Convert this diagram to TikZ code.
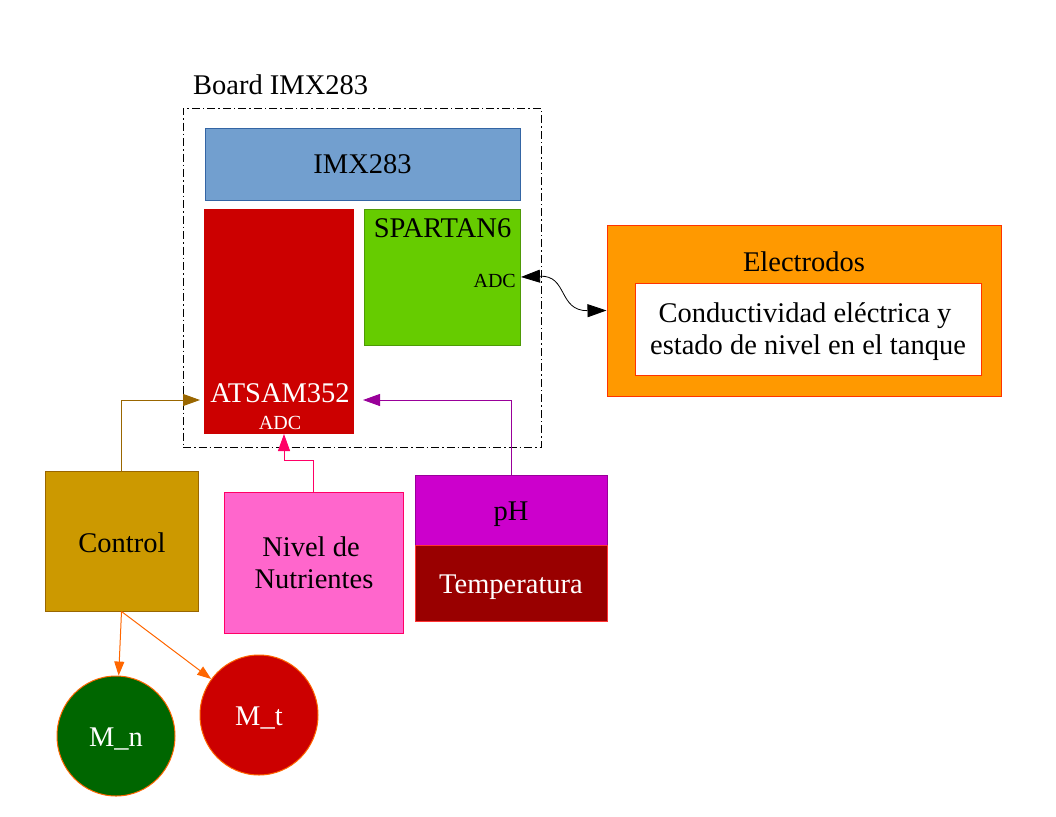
\documentclass[tikz,border=0pt]{standalone}
\usepackage{fontspec}
\setmainfont{Liberation Serif}
\usetikzlibrary{arrows.meta,shapes.geometric}
\definecolor{cimxf}{HTML}{729FCF}
\definecolor{cimxd}{HTML}{3465A4}
\definecolor{cred}{HTML}{CC0000}
\definecolor{cgreen}{HTML}{66CC00}
\definecolor{cgreend}{HTML}{4E9A06}
\definecolor{corange}{HTML}{FF9900}
\definecolor{corangerd}{HTML}{FF3300}
\definecolor{cgold}{HTML}{CC9900}
\definecolor{cbrown}{HTML}{996600}
\definecolor{cpink}{HTML}{FF66CC}
\definecolor{cpinkd}{HTML}{FF0066}
\definecolor{cmag}{HTML}{CC00CC}
\definecolor{cpurp}{HTML}{990099}
\definecolor{cdred}{HTML}{990000}
\definecolor{clred}{HTML}{FF3333}
\definecolor{cdgreen}{HTML}{006600}
\definecolor{cor}{HTML}{FF6600}
\begin{document}
\begin{tikzpicture}[x=1pt,y=-1pt,
  big/.style={font=\fontsize{28.5}{31}\selectfont},
  small/.style={font=\fontsize{20}{22}\selectfont},
  blk/.style={rectangle,inner sep=0pt,line width=1pt,anchor=center},
  motor/.style={ellipse,inner sep=0pt,line width=1pt,minimum width=118pt,minimum height=120pt,draw=cor,font=\fontsize{28.5}{31}\selectfont,text=white},
  conn/.style={line width=1pt},
  tipbig/.style={-{Triangle[length=17pt,width=12pt]}},
  tipsmall/.style={-{Triangle[length=14pt,width=10pt]}}
]
\useasboundingbox (0,0) rectangle (1056,816);

% board
\node[blk,draw=black,dash pattern=on 8pt off 3pt on 1.5pt off 3pt,minimum width=358pt,minimum height=339pt] (board) at (362,277.5) {};
\node[big,anchor=base west,inner sep=0pt] (boardlbl) at (193,94) {Board IMX283};

\node[blk,big,fill=cimxf,draw=cimxd,minimum width=315pt,minimum height=72pt] (imx) at (362.5,164) {IMX283};

\node[blk,fill=cred,draw=cred,minimum width=149pt,minimum height=224pt] (atsam) at (278.5,321) {};
\node[big,text=white,anchor=base,inner sep=0pt] (atsamlbl) at (280,402) {ATSAM352};
\node[small,text=white,anchor=base,inner sep=0pt] (atsamadc) at (280,429) {ADC};

\node[blk,fill=cgreen,draw=cgreend,minimum width=156pt,minimum height=136pt] (spartan) at (442,277) {};
\node[big,anchor=base,inner sep=0pt] (spartanlbl) at (442.5,237) {SPARTAN6};
\node[small,anchor=base east,inner sep=0pt] (spartanadc) at (516,287) {ADC};

% electrodos
\node[blk,fill=corange,draw=corangerd,minimum width=394pt,minimum height=171pt] (electrodos) at (804,310.5) {};
\node[big,anchor=base,inner sep=0pt] (electrodoslbl) at (804,271) {Electrodos};
\node[blk,fill=white,draw=corangerd,minimum width=346pt,minimum height=92pt] (inner) at (808.5,329) {};
\node[big,anchor=base,inner sep=0pt] (innerl1) at (805,322) {Conductividad eléctrica y};
\node[big,anchor=base,inner sep=0pt] (innerl2) at (808,354) {estado de nivel en el tanque};

% lower blocks
\node[blk,fill=cgold,draw=cbrown,minimum width=153pt,minimum height=140pt] (control) at (121.5,541) {};
\node[big,anchor=base,inner sep=0pt] (controllbl) at (122,552) {Control};
\node[blk,fill=cpink,draw=cpinkd,minimum width=179pt,minimum height=141pt] (nivel) at (313.5,562.5) {};
\node[big,anchor=base,inner sep=0pt] (nivell1) at (311,556) {Nivel de};
\node[big,anchor=base,inner sep=0pt] (nivell2) at (314,588) {Nutrientes};
\node[blk,fill=cmag,draw=cpurp,minimum width=192pt,minimum height=70pt] (ph) at (511,510) {};
\node[big,anchor=base,inner sep=0pt] (phlbl) at (511,520) {pH};
\node[blk,fill=cdred,draw=clred,minimum width=192pt,minimum height=76pt] (temp) at (511,583) {};
\node[big,text=white,anchor=base,inner sep=0pt] (templbl) at (511,593) {Temperatura};

\node[motor,fill=cdgreen] (mn) at (116,736) {};
\node[big,text=white,anchor=base,inner sep=0pt] (mnlbl) at (116,746) {M\_n};
\node[motor,fill=cred] (mt) at (259,715) {};
\node[big,text=white,anchor=base,inner sep=0pt] (mtlbl) at (259,725) {M\_t};

% connectors
\coordinate (atsamin) at (200,400);
\coordinate (phin) at (363,400);
\coordinate (adcin) at (284,434);
\coordinate (spadc) at (521,277);

\draw[conn,tipbig,draw=cbrown] (control.north) |- (atsamin);
\draw[conn,tipbig,draw=cpurp] (ph.north) |- (phin);
\draw[conn,tipbig,draw=cpinkd] (nivel.north) -- (nivel.north |- 0,460) -| (adcin);
\draw[line width=0.8pt,{Triangle[length=19pt,width=13pt]}-{Triangle[length=19pt,width=13pt]}] (spadc) .. controls (568,275) and (558,311) .. (electrodos.west);

\draw[conn,tipsmall,draw=cor] (control.south) -- (mn);
\draw[conn,tipsmall,draw=cor] (control.south) -- (mt);
\end{tikzpicture}
\end{document}
